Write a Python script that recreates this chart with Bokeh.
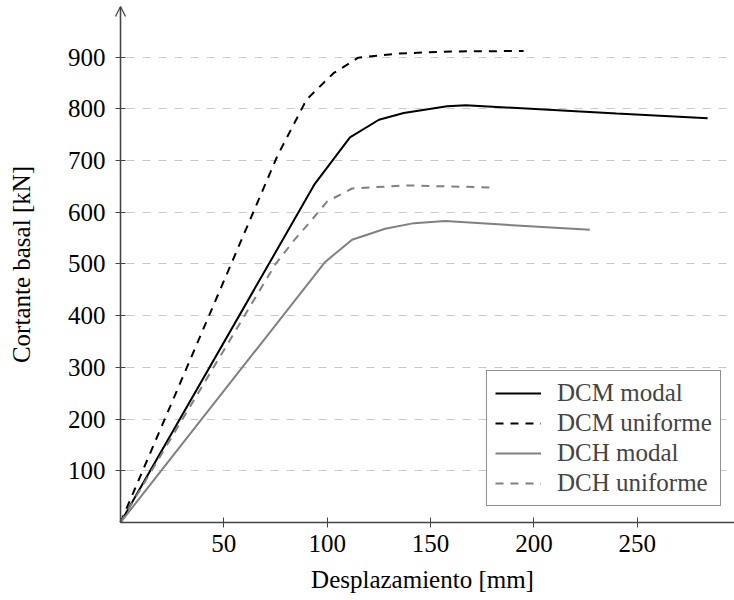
from bokeh.plotting import figure
from bokeh.models import (FixedTicker, Range1d, Legend, LegendItem, Arrow, OpenHead,
                          BoxAnnotation, LinearAxis)
from bokeh.embed import file_html
from bokeh.resources import INLINE

# ---- data ----
dcm_modal_x = [0, 94, 111, 125, 137, 158, 167, 240, 284]
dcm_modal_y = [0, 655, 745, 779, 792, 805, 807, 791, 782]

dcm_unif_x = [0, 76, 90, 103, 115, 134, 160, 195]
dcm_unif_y = [0, 710, 818, 869, 899, 907, 911, 912]

dch_modal_x = [0, 99, 112, 128, 142, 157, 227]
dch_modal_y = [0, 504, 547, 568, 579, 583, 566]

dch_unif_x = [0, 75, 84, 91, 100, 112, 138, 179]
dch_unif_y = [0, 500, 546, 578, 621, 646, 652, 648]

x_ticks = [50, 100, 150, 200, 250]
y_ticks = [100, 200, 300, 400, 500, 600, 700, 800, 900]

labels = ["DCM modal", "DCM uniforme", "DCH modal", "DCH uniforme"]
x_label = "Desplazamiento [mm]"
y_label = "Cortante basal [kN]"

FONT = "Liberation Serif"
FS = "25px"
AXC = "#444444"
X_MAX = 297
Y_MAX = 998

p = figure(width=734, height=600, output_backend="svg", toolbar_location=None,
           x_range=Range1d(-4.84, X_MAX), y_range=Range1d(0, Y_MAX),
           min_border_left=110, min_border_right=0, min_border_top=6,
           min_border_bottom=78)
p.outline_line_color = None
p.background_fill_color = "white"
p.border_fill_color = "white"

# x axis
xa = p.xaxis[0]
xa.ticker = FixedTicker(ticks=x_ticks)
xa.bounds = (0, X_MAX)
xa.axis_line_color = AXC
xa.axis_line_width = 1.3
xa.major_tick_line_color = AXC
xa.major_tick_in = 5
xa.major_tick_out = 5
xa.minor_tick_line_color = None
xa.major_label_text_font = FONT
xa.major_label_text_font_size = FS
xa.major_label_text_color = "black"
xa.major_label_standoff = 7
xa.axis_label = x_label
xa.axis_label_text_font = FONT
xa.axis_label_text_font_size = FS
xa.axis_label_text_font_style = "normal"
xa.axis_label_text_color = "black"
xa.axis_label_standoff = 11

# y axis: labels only (in the left panel)
ya = p.yaxis[0]
ya.ticker = FixedTicker(ticks=y_ticks)
ya.axis_line_color = None
ya.major_tick_line_color = None
ya.major_tick_in = 0
ya.major_tick_out = 0
ya.minor_tick_line_color = None
ya.major_label_text_font = FONT
ya.major_label_text_font_size = FS
ya.major_label_text_color = "black"
ya.major_label_standoff = 5
ya.axis_label = y_label
ya.axis_label_text_font = FONT
ya.axis_label_text_font_size = FS
ya.axis_label_text_font_style = "normal"
ya.axis_label_text_color = "black"
ya.axis_label_standoff = 30

# y axis line and ticks, placed at x = 0
ya2 = LinearAxis(fixed_location=0, ticker=FixedTicker(ticks=y_ticks),
                 axis_line_color=AXC, axis_line_width=1.3,
                 major_tick_line_color=AXC, major_tick_in=5, major_tick_out=5,
                 minor_tick_line_color=None, major_label_text_color=None,
                 major_label_text_font_size="0px", major_label_standoff=0)
p.add_layout(ya2, "left")

p.xgrid.grid_line_color = None
p.ygrid.grid_line_color = "#c8c8c8"
p.ygrid.grid_line_dash = "8 8"
p.ygrid.grid_line_width = 1.2

# white mask left of the y axis so grid lines start at the axis
p.add_layout(BoxAnnotation(right=0, fill_color="white", fill_alpha=1.0,
                           line_color=None, level="underlay"))

r1 = p.line(dcm_modal_x, dcm_modal_y, line_color="black", line_width=2)
r2 = p.line(dcm_unif_x, dcm_unif_y, line_color="black", line_width=2, line_dash="8 7")
r3 = p.line(dch_modal_x, dch_modal_y, line_color="#808080", line_width=2)
r4 = p.line(dch_unif_x, dch_unif_y, line_color="#808080", line_width=2, line_dash="8 7")

p.add_layout(Arrow(end=OpenHead(size=10, line_width=1.3, line_color=AXC),
                   line_color=AXC, line_width=1.3,
                   x_start=0, y_start=0, x_end=0, y_end=Y_MAX))

legend = Legend(items=[LegendItem(label=l, renderers=[r]) for l, r in zip(labels, [r1, r2, r3, r4])],
                location=(376, 16), orientation="vertical",
                label_text_font=FONT, label_text_font_size=FS,
                glyph_width=46, label_standoff=16, spacing=2, padding=8,
                border_line_color="#222222", border_line_width=1.2,
                background_fill_color="white", background_fill_alpha=1.0, margin=0)
p.add_layout(legend, "center")

open("out.html", "w").write(file_html(p, INLINE))
